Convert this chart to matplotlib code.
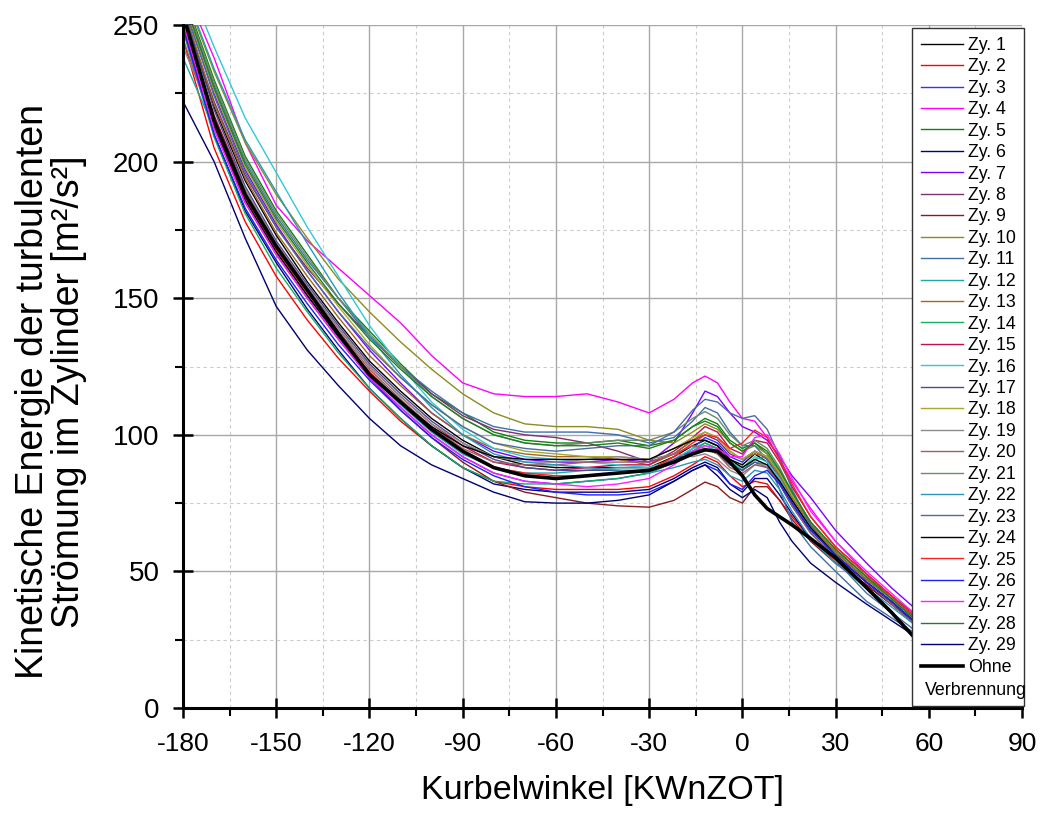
import numpy as np
import matplotlib.pyplot as plt
from matplotlib.ticker import MultipleLocator

plt.rcParams['font.family'] = ['Liberation Sans', 'DejaVu Sans']
plt.rcParams['axes.unicode_minus'] = False

# Kurbelwinkel [KWnZOT]
kw = [-180, -170, -160, -150, -140, -130, -120, -110, -100, -90, -80, -70, -60,
      -50, -40, -30, -22, -16, -12, -8, -4, 0, 4, 8, 12, 16, 22, 30, 40, 48, 56]

# turbulente kinetische Energie je Zyklus [m²/s²]
zy01 = [256, 220, 193, 173, 156, 141, 127, 116, 106, 98, 92, 89, 88,
        88, 88, 88, 92, 96, 98, 96, 91, 89, 93, 90, 82, 74, 65, 56, 46, 39, 31]
zy02 = [245, 205, 178, 158, 142, 128, 116, 105, 96, 88, 83, 81, 80,
        80, 80, 81, 85, 89, 92, 90, 85, 81, 83, 82, 76, 70, 62, 54, 45, 38, 31]
zy03 = [252, 214, 186, 167, 151, 136, 121, 110, 100, 92, 86, 83, 82,
        83, 84, 86, 90, 95, 99, 97, 92, 90, 94, 92, 85, 76, 66, 57, 47, 40, 32]
zy04 = [265, 238, 207, 184, 171, 161, 151, 141, 129, 119, 115, 114, 114,
        115, 112, 108, 113, 119, 121.5, 119, 112, 106, 105, 99, 91, 83, 73, 61, 49, 41, 33]
zy05 = [262, 230, 202, 182, 166, 150, 138, 126, 115, 108, 101, 98, 97,
        97, 98, 96, 98, 103, 106, 104, 98, 95, 97, 93, 86, 78, 68, 58, 48, 41, 34]
zy06 = [250, 210, 182, 163, 146, 131, 117, 106, 96, 88, 82, 80, 79,
        79, 79, 80, 84, 88, 90, 88, 82, 79, 84, 84, 78, 71, 62, 53, 45, 38, 31]
zy07 = [258, 225, 197, 177, 160, 145, 131, 119, 108, 100, 94, 91, 90,
        90, 91, 90, 97, 108, 116, 114, 108, 103, 101, 98, 92, 85, 77, 65, 53, 44, 36]
zy08 = [255, 222, 195, 176, 161, 148, 136, 125, 115, 107, 102, 100, 99,
        97, 94, 90, 93, 98, 100, 98, 93, 91, 94, 91, 84, 76, 66, 57, 47, 40, 33]
zy09 = [250, 212, 185, 166, 150, 135, 121, 109, 99, 90, 83, 79, 77,
        75, 74, 73.5, 76, 80, 82.7, 81, 77, 75, 81, 81, 76, 69, 61, 53, 45, 38, 30]
zy10 = [263, 233, 207, 188, 172, 157, 145, 134, 124, 115, 108, 104, 103,
        103, 102, 98, 97, 101, 104, 102, 97, 94, 96, 93, 86, 78, 67, 57, 47, 40, 33]
zy11 = [260, 228, 200, 180, 164, 150, 136, 125, 116, 108, 103, 101, 101,
        101, 100, 97, 99, 105, 110, 108, 101, 96, 96, 91, 80, 68, 59, 50, 39, 33, 27]
zy12 = [238, 212, 187, 168, 151, 136, 122, 111, 101, 93, 88, 86, 86,
        87, 88, 88, 91, 95, 97, 95, 90, 87, 90, 89, 83, 75, 65, 56, 46, 39, 31]
zy13 = [257, 221, 194, 174, 158, 143, 129, 118, 108, 100, 95, 93, 92,
        92, 91, 89, 93, 98, 101, 99, 94, 91, 93, 92, 85, 77, 67, 57, 47, 40, 32]
zy14 = [248, 209, 181, 161, 145, 130, 117, 106, 96, 88, 83, 82, 82,
        83, 84, 86, 90, 94, 97, 95, 90, 87, 91, 92, 87, 79, 68, 58, 48, 40, 32]
zy15 = [253, 217, 190, 170, 154, 139, 125, 114, 104, 96, 90, 88, 87,
        88, 89, 89, 94, 99, 103, 101, 95, 93, 98, 97, 90, 81, 70, 59, 49, 41, 33]
zy16 = [270, 242, 216, 196, 176, 158, 140, 125, 112, 102, 95, 92, 91,
        90, 89, 88, 91, 95, 96, 94, 90, 88, 92, 90, 84, 76, 66, 56, 46, 39, 31]
zy17 = [256, 219, 191, 171, 155, 140, 126, 115, 105, 97, 91, 88, 87,
        87, 87, 87, 91, 94, 95, 93, 89, 87, 90, 88, 82, 74, 64, 55, 46, 39, 31]
zy18 = [259, 226, 198, 178, 162, 147, 133, 121, 111, 103, 97, 94, 93,
        92, 92, 91, 95, 99, 101, 99, 94, 91, 94, 92, 86, 78, 68, 58, 48, 40, 32]
zy19 = [242, 215, 190, 170, 154, 139, 125, 114, 104, 97, 92, 90, 90,
        91, 92, 91, 93, 92, 93, 91, 87, 85, 89, 89, 83, 76, 66, 56, 46, 39, 31]
zy20 = [245, 212, 188, 169, 153, 138, 124, 113, 103, 95, 90, 89, 89,
        90, 90, 90, 93, 96, 95, 93, 88, 86, 89, 88, 82, 74, 64, 55, 46, 38, 30]
zy21 = [261, 229, 201, 181, 165, 150, 137, 125, 114, 106, 100, 97, 96,
        97, 98, 98, 101, 106, 108.5, 106, 100, 96, 98, 95, 88, 79, 68, 58, 48, 40, 32]
zy22 = [264, 234, 208, 189, 170, 152, 136, 122, 110, 100, 93, 90, 89,
        88, 87, 86, 88, 90, 91, 89, 85, 83, 87, 86, 80, 72, 62, 53, 44, 37, 30]
zy23 = [258, 224, 196, 176, 160, 145, 132, 121, 111, 103, 97, 95, 94,
        95, 96, 96, 101, 109, 113, 112, 108, 106, 107, 102, 92, 80, 67, 54, 42, 35, 28]
zy24 = [251, 213, 186, 167, 151, 136, 123, 112, 103, 96, 92, 91, 91,
        91, 91, 91, 95, 98, 98, 96, 91, 88, 91, 89, 83, 76, 66, 56, 46, 39, 31]
zy25 = [252, 214, 187, 168, 152, 137, 123, 112, 102, 94, 88, 86, 85,
        85, 86, 87, 92, 97, 100, 99, 95, 97, 101.7, 99, 91, 82, 70, 59, 49, 41, 33]
zy26 = [249, 210, 183, 164, 148, 133, 120, 109, 99, 91, 85, 81, 79,
        78, 78, 79, 83, 87, 89, 87, 82, 80, 85, 87, 82, 75, 65, 56, 46, 39, 31]
zy27 = [251, 212, 185, 166, 150, 135, 121, 110, 100, 92, 86, 83, 82,
        81, 82, 84, 89, 94, 96, 95, 92, 92, 99, 100, 93, 84, 72, 61, 50, 42, 34]
zy28 = [260, 227, 199, 179, 163, 148, 135, 124, 114, 106, 100, 97, 96,
        96, 97, 95, 98, 103, 105, 103, 97, 94, 97, 94, 87, 79, 68, 58, 48, 40, 32]
zy29 = [222, 200, 172, 147, 131, 118, 106, 96, 89, 84, 79, 75.5, 75,
        75, 76, 78, 83, 87, 89, 85, 80, 77, 80, 77, 68, 61, 53, 46, 38, 32, 26]

ohne = [254, 215, 188, 169, 153, 137, 122, 112, 102, 94, 88, 85, 84,
        85, 86, 87, 90, 93, 94.5, 94, 90, 85, 78, 73, 70, 67, 62, 55, 44, 35, 25]

zyklen = [zy01, zy02, zy03, zy04, zy05, zy06, zy07, zy08, zy09, zy10,
          zy11, zy12, zy13, zy14, zy15, zy16, zy17, zy18, zy19, zy20,
          zy21, zy22, zy23, zy24, zy25, zy26, zy27, zy28, zy29]

farben = ['#000000', '#FF0000', '#3030FF', '#FF00FF', '#108010', '#000080',
          '#7F00FF', '#7F2F70', '#8B1A1A', '#8C8C1E', '#3F6FA8', '#20A8A8',
          '#A0671F', '#10B060', '#C0104F', '#30C8D8', '#504890', '#A8A830',
          '#8C8C8C', '#9C6060', '#6C8A6C', '#2898B8', '#4A6CA0', '#000000',
          '#FF2020', '#2020FF', '#FF20FF', '#208020', '#000070']

fig = plt.figure(figsize=(10.48, 8.14), dpi=100)
ax = fig.add_axes([183 / 1048, 106 / 814, 839 / 1048, 683 / 814])

for i, (werte, farbe) in enumerate(zip(zyklen, farben)):
    ax.plot(kw, werte, color=farbe, lw=1.0, label=f"Zy. {i + 1}")
ax.plot(kw, ohne, color='black', lw=2.6, label="Ohne")
ax.plot([], [], color='none', label=" ")

ax.set_xlim(-180, 90)
ax.set_ylim(0, 250)
ax.xaxis.set_major_locator(MultipleLocator(30))
ax.xaxis.set_minor_locator(MultipleLocator(15))
ax.yaxis.set_major_locator(MultipleLocator(50))
ax.yaxis.set_minor_locator(MultipleLocator(25))

ax.grid(which='major', color='#A8A8A8', lw=1.0)
ax.grid(which='minor', color='#CCCCCC', lw=0.8, ls=(0, (3, 3)))
ax.set_axisbelow(True)

for s in ['top', 'right']:
    ax.spines[s].set_visible(False)
for s in ['left', 'bottom']:
    ax.spines[s].set_linewidth(2.2)

ax.tick_params(which='major', direction='inout', length=14, width=1.8)
ax.tick_params(which='minor', direction='out', length=6, width=1.5)
ax.tick_params(axis='x', which='major', labelsize=19, pad=10)
ax.tick_params(axis='y', which='major', labelsize=20, pad=10)

ax.set_xlabel("Kurbelwinkel [KWnZOT]", fontsize=24.5, labelpad=14)
ax.set_ylabel("Kinetische Energie der turbulenten\nStrömung im Zylinder [m²/s²]",
              fontsize=27, linespacing=0.98)
ax.yaxis.set_label_coords(-0.115, 0.463)

leg = ax.legend(loc='upper left', bbox_to_anchor=(912 / 1048, 1 - 28 / 814),
                bbox_transform=fig.transFigure, borderaxespad=0,
                fontsize=12.8, handlelength=2.35, handletextpad=0.28,
                labelspacing=0.25, borderpad=0.5, fancybox=False,
                framealpha=1, edgecolor='#333333')
leg.get_frame().set_linewidth(1.0)

fig.canvas.draw()
bb = leg.get_window_extent()
inv = fig.transFigure.inverted()
x0, y0 = inv.transform((bb.x0 + 13, bb.y0 + 7))
fig.text(x0, y0, "Verbrennung", fontsize=12.8, ha='left', va='bottom')

fig.savefig("out.png", dpi=100)
